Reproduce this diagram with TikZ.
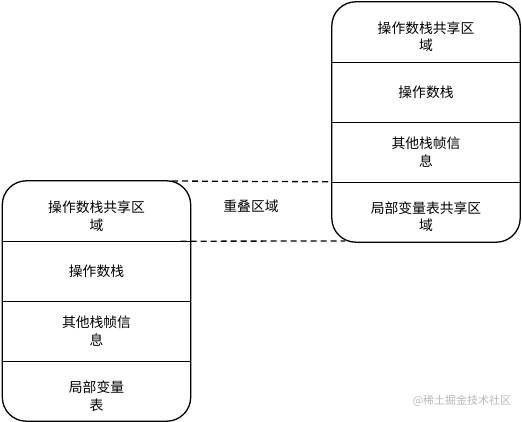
\documentclass[tikz,border=0pt]{standalone}
\usepackage{fontspec}
\newfontfamily\cjk{Noto Sans CJK SC}
\begin{document}
\begin{tikzpicture}[x=1pt,y=-1pt,
  cell/.style={minimum width=188pt,minimum height=60pt,inner sep=0pt,
    align=center,font=\cjk\fontsize{13.8}{17.5}\selectfont},
  stackbox/.style={draw,line width=1.3pt,rounded corners=24pt},
  divider/.style={line width=1.3pt},
  overlap/.style={line width=1.3pt,dash pattern=on 6pt off 4pt},
  lbl/.style={font=\cjk\fontsize{13.8}{17.5}\selectfont},
  wmark/.style={font=\cjk\fontsize{11}{13}\selectfont,text=black!28}]
\useasboundingbox (0,0) rectangle (522,422);
% left stack
\node[cell] (l1) at (96.5,211) {};
\node[cell] (l2) at (96.5,271) {操作数栈};
\node[cell] (l3) at (96.5,331) {其他栈帧信\\息};
\node[cell] (l4) at (96.5,391) {};
\node[lbl,align=center] (l1t) at ([yshift=-5pt]l1.center) {操作数栈共享区\\域};
\node[lbl,align=center] (l4t) at ([yshift=-5pt]l4.center) {局部变量\\表};
\draw[stackbox] (l1.north west) rectangle (l4.south east);
\draw[divider] (l1.south west) -- (l1.south east);
\draw[divider] (l2.south west) -- (l2.south east);
\draw[divider] (l3.south west) -- (l3.south east);
% right stack
\node[cell] (r1) at (426,32) {};
\node[cell] (r2) at (426,92) {操作数栈};
\node[cell] (r3) at (426,152) {其他栈帧信\\息};
\node[cell] (r4) at (426,212) {};
\node[lbl,align=center] (r1t) at ([yshift=-4.5pt]r1.center) {操作数栈共享区\\域};
\node[lbl,align=center] (r4t) at ([yshift=-4.5pt]r4.center) {局部变量表共享区\\域};
\draw[stackbox] (r1.north west) rectangle (r4.south east);
\draw[divider] (r1.south west) -- (r1.south east);
\draw[divider] (r2.south west) -- (r2.south east);
\draw[divider] (r3.south west) -- (r3.south east);
% overlap
\coordinate (t1) at (172,181);
\coordinate (b2) at (345,241);
\draw[overlap] (t1) -- (r4.north west);
\draw[overlap] ([xshift=-10pt]l1.south east) -- (b2);
\node[lbl] (ov) at (251,206) {重叠区域};
\node[wmark] (wm) at (462,401) {@稀土掘金技术社区};
\end{tikzpicture}
\end{document}
